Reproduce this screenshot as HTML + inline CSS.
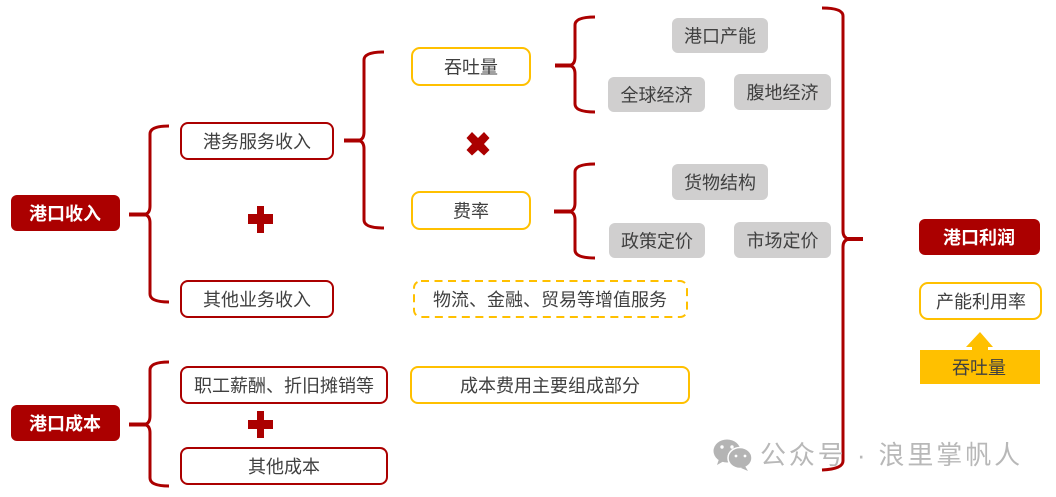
<!DOCTYPE html>
<html lang="zh">
<head>
<meta charset="utf-8">
<style>
html,body{margin:0;padding:0;background:#fff;width:1056px;height:497px;overflow:hidden}
svg{display:block}
text{font-family:"Liberation Sans","Noto Sans CJK SC",sans-serif;font-size:18px;fill:#404040;text-anchor:middle;dominant-baseline:central;transform:translateY(1px)}
.w{fill:#fff;font-weight:700}
.b{fill:none;stroke:#ab0000;stroke-width:3}
.t{fill:none;stroke:#ab0000;stroke-width:4}
.r{fill:#fff;stroke:#ab0000;stroke-width:2}
.y{fill:#fff;stroke:#ffc000;stroke-width:2}
.g{fill:#d0cfcf}
.d{fill:#ab0000}
</style>
</head>
<body>
<svg width="1056" height="497" viewBox="0 0 1056 497" xmlns="http://www.w3.org/2000/svg">
<!-- braces -->
<path class="b" d="M169 126Q150 126 150 134V206Q150 214 144 214.500Q150 215 150 223V294Q150 302 169 302"/>
<path class="t" d="M129 214.500H146"/>
<path class="b" d="M169 362Q150 362 150 370V416Q150 424 144 424.500Q150 425 150 433V478Q150 486 169 486"/>
<path class="t" d="M129 424.500H146"/>
<path class="b" d="M384 52Q364 52 364 60V132Q364 140 358 140.500Q364 141 364 149V220Q364 228 384 228"/>
<path class="t" d="M344 140.500H360"/>
<path class="b" d="M595 17Q575 17 575 25V57Q575 65 569 65.500Q575 66 575 74V104Q575 112 595 112"/>
<path class="t" d="M555 65.500H571"/>
<path class="b" d="M595 164Q575 164 575 172V203Q575 211 569 211.500Q575 212 575 220V250Q575 258 595 258"/>
<path class="t" d="M554 211.500H571"/>
<path class="b" d="M822 8Q843 8 843 16V231Q843 238 849 239Q843 240 843 247V461Q843 469 822 470"/>
<path class="t" d="M847 239H863"/>
<!-- red filled -->
<rect class="d" x="11" y="195" width="109" height="36" rx="6"/>
<text class="w" x="65" y="213">港口收入</text>
<rect class="d" x="11" y="405" width="109" height="36" rx="6"/>
<text class="w" x="65" y="423">港口成本</text>
<rect class="d" x="919" y="219" width="121" height="36" rx="6"/>
<text class="w" x="979" y="237">港口利润</text>
<!-- red outlined -->
<rect class="r" x="181" y="123" width="152" height="36" rx="7"/>
<text x="257" y="141">港务服务收入</text>
<rect class="r" x="181" y="281" width="152" height="36" rx="7"/>
<text x="257" y="299">其他业务收入</text>
<rect class="r" x="181" y="367" width="206" height="36" rx="7"/>
<text x="284" y="385">职工薪酬、折旧摊销等</text>
<rect class="r" x="181" y="448" width="206" height="36" rx="7"/>
<text x="284" y="466">其他成本</text>
<!-- plus -->
<path class="d" d="M257 206h7v8h9v10h-9v9h-7v-9h-9v-10h9z"/>
<path class="d" d="M257 411h7v9h9v9h-9v9h-7v-9h-9v-9h9z"/>
<!-- multiply -->
<path class="d" d="M472 132L478 138L484 132L489.500 138L484 144L489.500 150L484 155.500L478 150L472 155.500L466.500 150L472 144L466.500 138z"/>
<!-- yellow outlined -->
<rect class="y" x="412" y="48" width="118" height="37" rx="8"/>
<text x="471" y="66.500">吞吐量</text>
<rect class="y" x="412" y="192" width="118" height="37" rx="8"/>
<text x="471" y="210.500">费率</text>
<rect class="y" x="414" y="281" width="273" height="36" rx="7" stroke-dasharray="8 5.500"/>
<text x="550" y="299">物流、金融、贸易等增值服务</text>
<rect class="y" x="411" y="367" width="278" height="36" rx="7"/>
<text x="550" y="385">成本费用主要组成部分</text>
<rect class="y" x="920" y="283" width="121" height="36" rx="8"/>
<text x="981" y="301">产能利用率</text>
<!-- grey -->
<rect class="g" x="672" y="18" width="96" height="35" rx="6"/>
<text x="720" y="35.500">港口产能</text>
<rect class="g" x="608" y="77" width="97" height="35" rx="6"/>
<text x="656.500" y="94.500">全球经济</text>
<rect class="g" x="734" y="74" width="97" height="36" rx="6"/>
<text x="782.500" y="92">腹地经济</text>
<rect class="g" x="672" y="164" width="96" height="36" rx="6"/>
<text x="720" y="182">货物结构</text>
<rect class="g" x="609" y="223" width="96" height="35" rx="6"/>
<text x="657" y="240.500">政策定价</text>
<rect class="g" x="734" y="222" width="97" height="36" rx="6"/>
<text x="782.500" y="240">市场定价</text>
<!-- arrow -->
<path fill="#ffc000" d="M980 332L993 347H988V351H972V347H966z"/>
<rect x="920" y="350" width="120" height="34" fill="#ffc000"/>
<text x="979" y="367">吞吐量</text>
<!-- watermark -->
<g fill="#b4b4b4">
<ellipse cx="727" cy="451" rx="13.500" ry="11.500"/>
<path d="M719 459l-2 6 7-4z"/>
<ellipse cx="740" cy="458" rx="12" ry="10.500" stroke="#fff" stroke-width="1.500"/>
<path d="M745 466l3 5-7-3z"/>
</g>
<g fill="#fff">
<circle cx="722" cy="447" r="1.700"/><circle cx="732" cy="447" r="1.700"/>
<circle cx="736" cy="456" r="1.400"/><circle cx="745" cy="456" r="1.400"/>
</g>
<text x="760" y="454" style="font-size:26px;fill:#b8b8b8;text-anchor:start;letter-spacing:2.900px">公众号 · 浪里掌帆人</text>
</svg>
</body>
</html>
